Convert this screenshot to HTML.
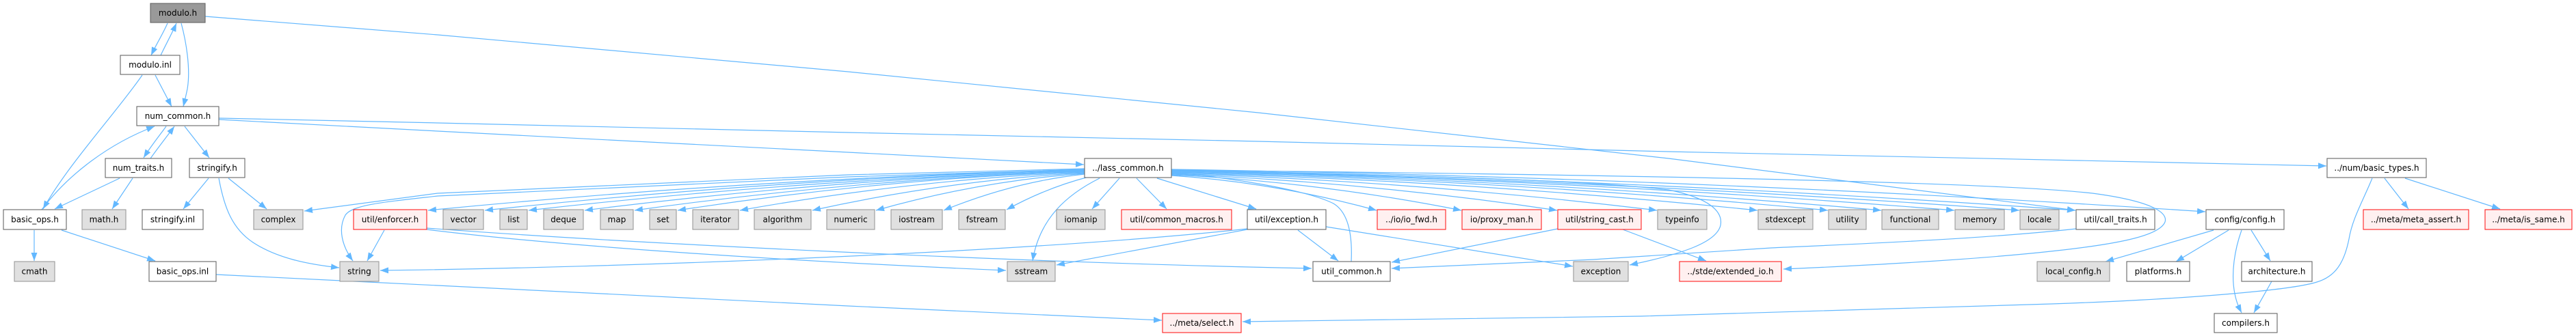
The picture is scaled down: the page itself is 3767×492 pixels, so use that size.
<!DOCTYPE html>
<html><head><meta charset="utf-8"><style>
html,body{margin:0;padding:0;background:#fff;}
svg{display:block;}
text{font-family:"DejaVu Sans","Liberation Sans",sans-serif;font-size:12px;fill:#000;text-anchor:middle;}
.e{fill:none;stroke:#63b8ff;stroke-width:1.2;marker-end:url(#ah);}
.w{fill:#fff;stroke:#666;stroke-width:1.1;}
.g{fill:#e0e0e0;stroke:#999;stroke-width:1.1;}
.r{fill:#fff0f0;stroke:#ff2020;stroke-width:1.1;}
.k{fill:#999;stroke:#666;stroke-width:1.1;}
</style></head><body>
<svg width="3767" height="492" viewBox="0 0 3767 492" xmlns="http://www.w3.org/2000/svg">
<defs>
<marker id="ah" markerWidth="13" markerHeight="10" refX="12" refY="5" orient="auto" markerUnits="userSpaceOnUse">
<path d="M0,0.5 L12,5 L0,9.5 z" fill="#63b8ff"/>
</marker>
</defs>

<!-- edges -->
<path class="e" d="M245,34 C238,50 229,64 221,81"/>
<path class="e" d="M235,81 C242,66 251,50 258,34"/>
<path class="e" d="M265,34 C272,60 279,100 274,130 C272,140 270,148 268,156"/>
<path class="e" d="M300,24 L640,51 L1240,105 L1840,165 L2440,232 L3035,308"/>
<path class="e" d="M320,173 L640,180 L1240,194 L1840,207 L2440,222 L3040,235 L3402,243"/>
<path class="e" d="M320,175 L640,192 L1240,223 L1585,241"/>
<path class="e" d="M227,110 L251,156"/>
<path class="e" d="M208,110 C170,165 100,240 63,306"/>
<path class="e" d="M243,185 C232,200 220,215 210,231"/>
<path class="e" d="M220,232 C232,215 244,200 255,185"/>
<path class="e" d="M270,185 L306,231"/>
<path class="e" d="M61,307 C100,255 160,210 226,185"/>
<path class="e" d="M175,261 L80,306"/>
<path class="e" d="M194,261 L164,306"/>
<path class="e" d="M305,261 L268,306"/>
<path class="e" d="M334,261 L390,306"/>
<path class="e" d="M320,261 C328,305 340,335 370,355 C405,378 450,387 496,392"/>
<path class="e" d="M50,337 L50,382"/>
<path class="e" d="M90,337 L227,382"/>
<path class="e" d="M316,402 L640,418 L1240,448 L1699,469"/>

<!-- lass_common left fan -->
<path class="e" d="M1586,247 L1240,256 L640,283 L445,309"/>
<path class="e" d="M1586,248 L1240,259 L640,287 C560,296 515,300 505,315 C494,335 500,360 516,382"/>
<path class="e" d="M1586,249 Q1106,261 626,308"/>
<path class="e" d="M1586,249 Q1147,261 709,308"/>
<path class="e" d="M1586,250 Q1179,262 773,308"/>
<path class="e" d="M1586,250 Q1220,262 855,308"/>
<path class="e" d="M1586,251 Q1257,262 928,308"/>
<path class="e" d="M1586,251 Q1288,262 991,308"/>
<path class="e" d="M1586,252 Q1334,263 1082,308"/>
<path class="e" d="M1586,253 Q1387,264 1188,308"/>
<path class="e" d="M1586,254 Q1433,265 1281,308"/>
<path class="e" d="M1586,255 Q1483,266 1380,308"/>
<path class="e" d="M1592,259 Q1530,275 1472,307"/>
<path class="e" d="M1608,261 C1560,285 1520,320 1510,382"/>
<path class="e" d="M1637,261 L1597,306"/>
<path class="e" d="M1662,261 L1706,306"/>
<path class="e" d="M1692,261 L1837,306"/>

<!-- lass_common right fan -->
<path class="e" d="M1713,257 Q1863,267 2013,308"/>
<path class="e" d="M1713,256 Q1925,266 2137,308"/>
<path class="e" d="M1713,255 Q1995,266 2277,308"/>
<path class="e" d="M1713,254 Q2068,265 2423,308"/>
<path class="e" d="M1713,253 Q2141,264 2570,308"/>
<path class="e" d="M1713,252 Q2193,263 2673,308"/>
<path class="e" d="M1713,251 Q2232,262 2751,308"/>
<path class="e" d="M1713,250 Q2285,262 2858,308"/>
<path class="e" d="M1713,250 Q2333,262 2953,308"/>
<path class="e" d="M1713,249 Q2374,261 3035,308"/>
<path class="e" d="M1713,248 Q2469,260 3225,310"/>
<path class="e" d="M1713,250 C2000,255 2300,262 2440,278 C2500,290 2520,310 2516,330 C2510,355 2460,372 2383,388"/>
<path class="e" d="M1713,249 C2300,255 2900,265 3060,283 C3150,295 3170,312 3166,325 C3158,345 3100,358 2980,370 C2850,383 2700,390 2608,394"/>
<path class="e" d="M1976,383 C1978,340 1970,310 1950,298 C1910,278 1800,260 1715,253"/>

<!-- row 4 -> row 5 -->
<path class="e" d="M562,337 L537,382"/>
<path class="e" d="M624,334 C900,355 1500,385 1918,393"/>
<path class="e" d="M624,336 C800,358 1100,380 1471,396"/>
<path class="e" d="M1824,335 C1500,370 900,392 556,396"/>
<path class="e" d="M1824,336 L1545,388"/>
<path class="e" d="M1898,337 L1957,382"/>
<path class="e" d="M1939,332 L2300,390"/>
<path class="e" d="M2278,335 L2035,384"/>
<path class="e" d="M2373,336 L2495,382"/>
<path class="e" d="M3036,335 C2900,350 2700,358 2590,363 L2330,380 L2035,393"/>

<!-- right side -->
<path class="e" d="M3469,261 C3455,295 3440,320 3435,350 C3428,385 3415,405 3388,413 C3350,425 3200,438 3000,445 L2400,463 L1817,471"/>
<path class="e" d="M3487,261 L3522,306"/>
<path class="e" d="M3517,261 L3656,306"/>
<path class="e" d="M3237,337 L3079,383"/>
<path class="e" d="M3259,337 L3182,383"/>
<path class="e" d="M3278,337 C3268,365 3262,400 3268,430 C3271,445 3275,452 3278,458"/>
<path class="e" d="M3292,337 L3320,382"/>
<path class="e" d="M3322,412 L3296,458"/>

<!-- nodes -->
<rect class="k" x="220" y="5" width="80" height="28"/><text x="260" y="23">modulo.h</text>
<rect class="w" x="176" y="81" width="87" height="28"/><text x="219.5" y="99">modulo.inl</text>
<rect class="w" x="200" y="156" width="120" height="28"/><text x="260" y="174">num_common.h</text>

<rect class="w" x="154" y="232" width="97" height="28"/><text x="202.5" y="250">num_traits.h</text>
<rect class="w" x="277" y="232" width="81" height="28"/><text x="317.5" y="250">stringify.h</text>
<rect class="w" x="1586" y="232" width="127" height="28"/><text x="1649.5" y="250">../lass_common.h</text>
<rect class="w" x="3403" y="232" width="145" height="28"/><text x="3475.5" y="250">../num/basic_types.h</text>

<rect class="w" x="5" y="307" width="92" height="29"/><text x="51" y="325.5">basic_ops.h</text>
<rect class="g" x="120" y="307" width="64" height="29"/><text x="152" y="325.5">math.h</text>
<rect class="w" x="208" y="307" width="89" height="29"/><text x="252.5" y="325.5">stringify.inl</text>
<rect class="g" x="371" y="307" width="72" height="29"/><text x="407" y="325.5">complex</text>
<rect class="r" x="517" y="307" width="107" height="29"/><text x="570.5" y="325.5">util/enforcer.h</text>
<rect class="g" x="648" y="307" width="59" height="29"/><text x="677.5" y="325.5">vector</text>
<rect class="g" x="731" y="307" width="40" height="29"/><text x="751" y="325.5">list</text>
<rect class="g" x="795" y="307" width="58" height="29"/><text x="824" y="325.5">deque</text>
<rect class="g" x="878" y="307" width="48" height="29"/><text x="902" y="325.5">map</text>
<rect class="g" x="950" y="307" width="39" height="29"/><text x="969.5" y="325.5">set</text>
<rect class="g" x="1013" y="307" width="67" height="29"/><text x="1046.5" y="325.5">iterator</text>
<rect class="g" x="1103" y="307" width="83" height="29"/><text x="1144.5" y="325.5">algorithm</text>
<rect class="g" x="1209" y="307" width="70" height="29"/><text x="1244" y="325.5">numeric</text>
<rect class="g" x="1303" y="307" width="75" height="29"/><text x="1340.5" y="325.5">iostream</text>
<rect class="g" x="1402" y="307" width="68" height="29"/><text x="1436" y="325.5">fstream</text>
<rect class="g" x="1545" y="307" width="71" height="29"/><text x="1580.5" y="325.5">iomanip</text>
<rect class="r" x="1640" y="307" width="161" height="29"/><text x="1720.5" y="325.5">util/common_macros.h</text>
<rect class="w" x="1824" y="307" width="115" height="29"/><text x="1881.5" y="325.5">util/exception.h</text>
<rect class="r" x="2014" y="307" width="100" height="29"/><text x="2064" y="325.5">../io/io_fwd.h</text>
<rect class="r" x="2138" y="307" width="116" height="29"/><text x="2196" y="325.5">io/proxy_man.h</text>
<rect class="r" x="2278" y="307" width="122" height="29"/><text x="2339" y="325.5">util/string_cast.h</text>
<rect class="g" x="2424" y="307" width="72" height="29"/><text x="2460" y="325.5">typeinfo</text>
<rect class="g" x="2571" y="307" width="80" height="29"/><text x="2611" y="325.5">stdexcept</text>
<rect class="g" x="2674" y="307" width="55" height="29"/><text x="2701.5" y="325.5">utility</text>
<rect class="g" x="2752" y="307" width="83" height="29"/><text x="2793.5" y="325.5">functional</text>
<rect class="g" x="2859" y="307" width="72" height="29"/><text x="2895" y="325.5">memory</text>
<rect class="g" x="2954" y="307" width="57" height="29"/><text x="2982.5" y="325.5">locale</text>
<rect class="w" x="3036" y="307" width="115" height="29"/><text x="3093.5" y="325.5">util/call_traits.h</text>
<rect class="w" x="3226" y="307" width="114" height="29"/><text x="3283" y="325.5">config/config.h</text>
<rect class="r" x="3456" y="307" width="154" height="29"/><text x="3533" y="325.5">../meta/meta_assert.h</text>
<rect class="r" x="3634" y="307" width="127" height="29"/><text x="3697.5" y="325.5">../meta/is_same.h</text>

<rect class="g" x="21" y="383" width="59" height="29"/><text x="50.5" y="401.5">cmath</text>
<rect class="w" x="218" y="383" width="98" height="29"/><text x="267" y="401.5">basic_ops.inl</text>
<rect class="g" x="497" y="383" width="57" height="29"/><text x="525.5" y="401.5">string</text>
<rect class="g" x="1473" y="383" width="70" height="29"/><text x="1508" y="401.5">sstream</text>
<rect class="w" x="1920" y="383" width="113" height="29"/><text x="1976.5" y="401.5">util_common.h</text>
<rect class="g" x="2301" y="383" width="80" height="29"/><text x="2341" y="401.5">exception</text>
<rect class="r" x="2456" y="383" width="149" height="29"/><text x="2530.5" y="401.5">../stde/extended_io.h</text>
<rect class="g" x="2979" y="383" width="106" height="29"/><text x="3032" y="401.5">local_config.h</text>
<rect class="w" x="3110" y="383" width="92" height="29"/><text x="3156" y="401.5">platforms.h</text>
<rect class="w" x="3278" y="383" width="103" height="29"/><text x="3329.5" y="401.5">architecture.h</text>

<rect class="r" x="1700" y="459" width="115" height="28"/><text x="1757.5" y="477">../meta/select.h</text>
<rect class="w" x="3238" y="459" width="92" height="28"/><text x="3284" y="477">compilers.h</text>
</svg>
</body></html>
